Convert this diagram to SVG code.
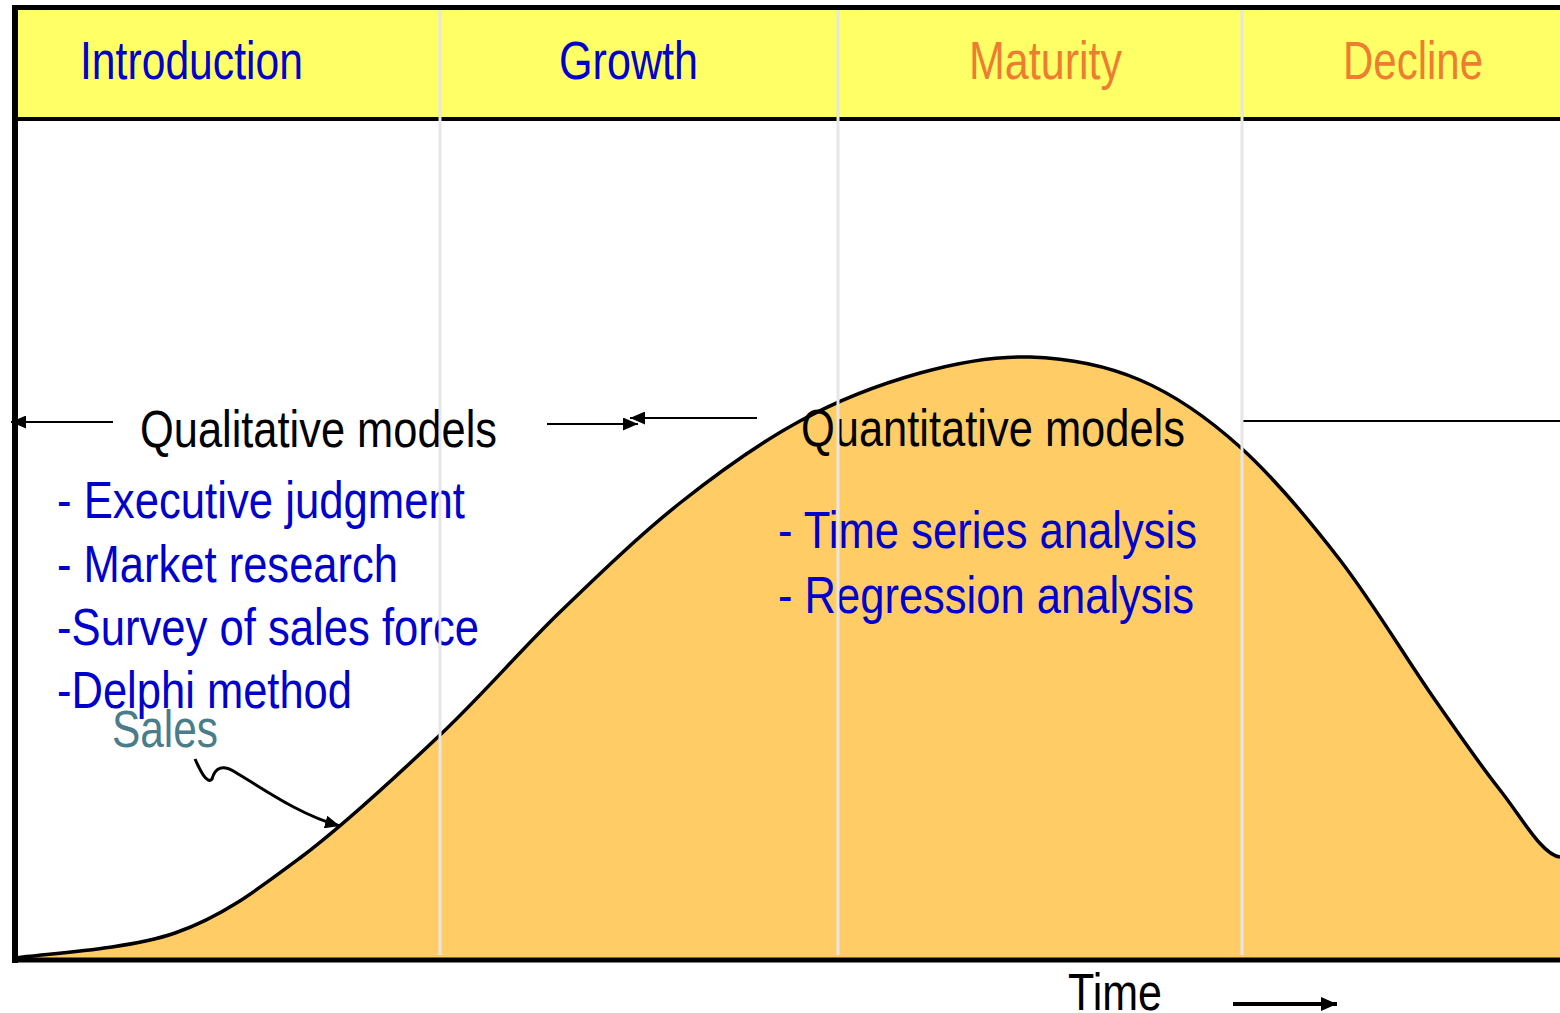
<svg xmlns="http://www.w3.org/2000/svg" width="1560" height="1013" viewBox="0 0 1560 1013">
<style>
text{font-family:"Liberation Sans",Arial,sans-serif;}
.hdr{font-size:53px;}
.blue{fill:#0000CC;}
.orange{fill:#ED7D31;}
.blk{fill:#000000;}
.lbl{font-size:52px;}
.conn{stroke:#000;stroke-width:2;fill:none;}
.phase{stroke:#E6E6E6;stroke-width:3;}
</style>
<defs>
<marker id="ahs" viewBox="0 0 10 10" refX="10" refY="5" markerWidth="15" markerHeight="13" markerUnits="userSpaceOnUse" orient="auto" preserveAspectRatio="none">
<path d="M0,0 L10,5 L0,10 Z" fill="#000"/>
</marker>
<marker id="aht" viewBox="0 0 10 10" refX="10" refY="5" markerWidth="16" markerHeight="14" markerUnits="userSpaceOnUse" orient="auto" preserveAspectRatio="none">
<path d="M0,0 L10,5 L0,10 Z" fill="#000"/>
</marker>
</defs>
<rect width="1560" height="1013" fill="#FFFFFF"/>

<g id="sales-curve">
<path d="M15,958 C41.7,953.8 127.5,949.7 175,933 C222.5,916.3 255.8,891 300,858 C344.2,825 396.7,776 440,735 C483.3,694 520,650.7 560,612 C600,573.3 640,534.8 680,503 C720,471.2 760,442.7 800,421 C840,399.3 881.7,383.7 920,373 C958.3,362.3 993.3,355.8 1030,357 C1066.7,358.2 1105,365 1140,380 C1175,395 1206.7,417 1240,447 C1273.3,477 1307.8,518.3 1340,560 C1372.2,601.7 1406.3,658.7 1433,697 C1459.7,735.3 1478.8,763.3 1500,790 C1521.2,816.7 1542,855 1560,857 L1560,960 L15,960 Z" fill="#FFCC66"/>
<path d="M15,958 C41.7,953.8 127.5,949.7 175,933 C222.5,916.3 255.8,891 300,858 C344.2,825 396.7,776 440,735 C483.3,694 520,650.7 560,612 C600,573.3 640,534.8 680,503 C720,471.2 760,442.7 800,421 C840,399.3 881.7,383.7 920,373 C958.3,362.3 993.3,355.8 1030,357 C1066.7,358.2 1105,365 1140,380 C1175,395 1206.7,417 1240,447 C1273.3,477 1307.8,518.3 1340,560 C1372.2,601.7 1406.3,658.7 1433,697 C1459.7,735.3 1478.8,763.3 1500,790 C1521.2,816.7 1542,855 1560,857" fill="none" stroke="#000" stroke-width="3.5"/>
</g>

<g id="header">
<rect x="15" y="8" width="1545" height="111" fill="#FFFF66"/>
<line x1="12" y1="7.5" x2="1560" y2="7.5" stroke="#000" stroke-width="5"/>
<line x1="12" y1="119" x2="1560" y2="119" stroke="#000" stroke-width="4"/>
</g>

<g id="axes">
<line x1="15" y1="5" x2="15" y2="963" stroke="#000" stroke-width="6"/>
<line x1="12" y1="960" x2="1560" y2="960" stroke="#000" stroke-width="5"/>
</g>

<g id="phase-labels">
<text id="introduction" class="hdr blue" x="80" y="79" textLength="223" lengthAdjust="spacingAndGlyphs">Introduction</text>
<text id="growth" class="hdr blue" x="559" y="79" textLength="139" lengthAdjust="spacingAndGlyphs">Growth</text>
<text id="maturity" class="hdr orange" x="969" y="79" textLength="153" lengthAdjust="spacingAndGlyphs">Maturity</text>
<text id="decline" class="hdr orange" x="1343" y="79" textLength="140" lengthAdjust="spacingAndGlyphs">Decline</text>
</g>

<g id="qualitative">
<text class="lbl blk" x="140" y="447" textLength="357" lengthAdjust="spacingAndGlyphs">Qualitative models</text>
<text class="lbl blue" x="57" y="518" textLength="408" lengthAdjust="spacingAndGlyphs">- Executive judgment</text>
<text class="lbl blue" x="57" y="582" textLength="341" lengthAdjust="spacingAndGlyphs">- Market research</text>
<text class="lbl blue" x="57" y="645" textLength="422" lengthAdjust="spacingAndGlyphs">-Survey of sales force</text>
<text class="lbl blue" x="57" y="708" textLength="295" lengthAdjust="spacingAndGlyphs">-Delphi method</text>
</g>

<g id="quantitative">
<text class="lbl blk" x="801" y="446" textLength="384" lengthAdjust="spacingAndGlyphs">Quantitative models</text>
<text class="lbl blue" x="778" y="548" textLength="419" lengthAdjust="spacingAndGlyphs">- Time series analysis</text>
<text class="lbl blue" x="778" y="613" textLength="416" lengthAdjust="spacingAndGlyphs">- Regression analysis</text>
</g>

<g id="sales-label">
<text x="112" y="747" font-size="51" fill="#4A7C89" textLength="106" lengthAdjust="spacingAndGlyphs">Sales</text>
</g>

<g id="time-label">
<text x="1068" y="1010" font-size="52" fill="#000" textLength="94" lengthAdjust="spacingAndGlyphs">Time</text>
</g>

<g id="connectors">
<line class="conn" x1="113" y1="422" x2="11" y2="422" marker-end="url(#ahs)"/>
<line class="conn" x1="547" y1="424" x2="638" y2="424" marker-end="url(#ahs)"/>
<line class="conn" x1="757" y1="418" x2="630" y2="418" marker-end="url(#ahs)"/>
<line class="conn" x1="1243" y1="421" x2="1560" y2="421"/>
<path d="M195,759 C200,770 207,785 212,779 C215,768 222,764 235,772 C265,790 300,815 340,826" fill="none" stroke="#000" stroke-width="3" marker-end="url(#ahs)"/>
<line x1="1233" y1="1004" x2="1337" y2="1004" stroke="#000" stroke-width="4" marker-end="url(#aht)"/>
</g>

<g id="phase-dividers">
<line class="phase" x1="440" y1="10" x2="440" y2="955"/>
<line class="phase" x1="838" y1="10" x2="838" y2="955"/>
<line class="phase" x1="1242" y1="10" x2="1242" y2="955"/>
</g>
</svg>
